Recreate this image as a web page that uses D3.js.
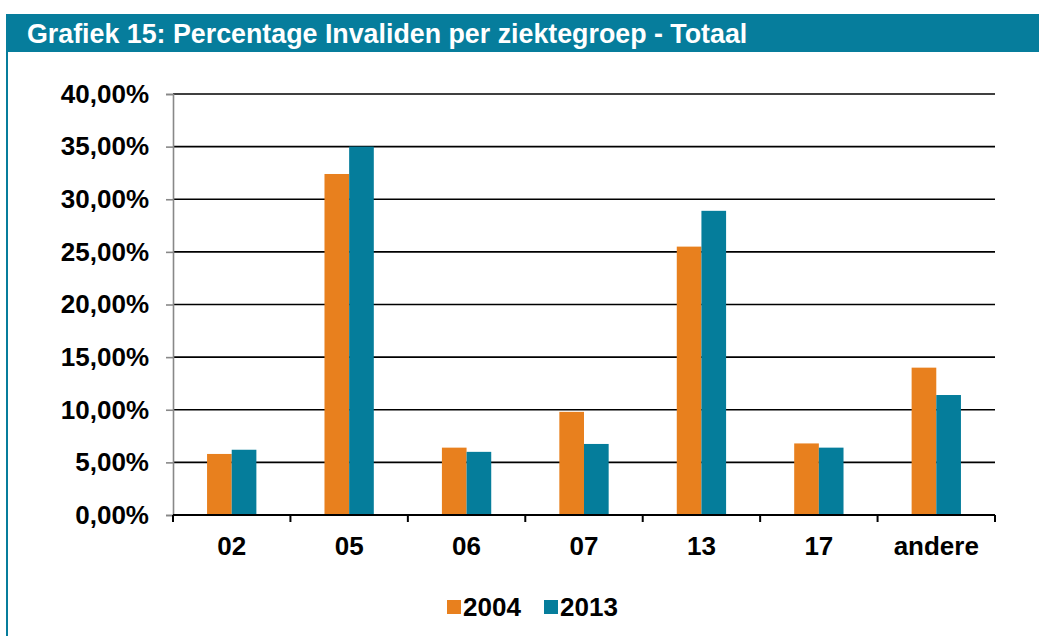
<!DOCTYPE html>
<html>
<head>
<meta charset="utf-8">
<script src="https://cdn.jsdelivr.net/npm/d3@7"></script>
<style>
  body { margin: 0; background: #fff; }
  svg { display: block; font-family: "Liberation Sans", Arial, sans-serif; }
</style>
</head>
<body>
<svg id="chart" width="1039" height="636"></svg>
<script>
const categories = ["02", "05", "06", "07", "13", "17", "andere"];
const series = ["2004", "2013"];
const values2004 = [5.8, 32.4, 6.4, 9.8, 25.5, 6.8, 14.0];
const values2013 = [6.2, 35.0, 6.0, 6.75, 28.9, 6.4, 11.4];
const yTicks = [0, 5, 10, 15, 20, 25, 30, 35, 40];

const colors = { "2004": "#E8801E", "2013": "#057D9B" };
const HEADER = "#067D9C";
const FONT = 26;

const svg = d3.select("#chart");
const margin = { left: 173, right: 44, top: 94, bottom: 121 }; // plot area 173..995, 94..515
const width = 1039, height = 636;

// frame + header
svg.append("rect").attr("x", 6).attr("y", 14).attr("width", 2).attr("height", height - 14).attr("fill", HEADER);
svg.append("rect").attr("x", 6).attr("y", 14).attr("width", width - 6).attr("height", 38).attr("fill", HEADER);
svg.append("text")
    .attr("x", 27).attr("y", 43)
    .attr("fill", "#fff").attr("font-size", 26.8).attr("font-weight", "bold")
    .text("Grafiek 15: Percentage Invaliden per ziektegroep - Totaal");

const x = d3.scaleBand()
    .domain(categories)
    .range([margin.left, width - margin.right])
    .paddingInner(0.58).paddingOuter(0.29);

const xs = d3.scaleBand().domain(series).range([0, x.bandwidth()]);

const y = d3.scaleLinear().domain([0, 40]).range([height - margin.bottom, margin.top]);

// gridlines
svg.append("g")
    .selectAll("line")
    .data(yTicks.filter(d => d > 0))
    .join("line")
    .attr("x1", margin.left).attr("x2", width - margin.right)
    .attr("y1", d => y(d)).attr("y2", d => y(d))
    .attr("stroke", "#000").attr("stroke-width", 1.6);

// y axis
const yAxis = svg.append("g")
    .attr("transform", `translate(${margin.left},0)`)
    .call(d3.axisLeft(y).tickValues(yTicks).tickSize(7).tickPadding(17)
        .tickFormat(d => d.toFixed(2).replace(".", ",") + "%"));
yAxis.select(".domain").attr("stroke", "#888").attr("stroke-width", 1.6);
yAxis.selectAll(".tick line").attr("stroke", "#888").attr("stroke-width", 1.6);
yAxis.selectAll("text").attr("font-size", FONT).attr("font-weight", "bold").attr("fill", "#000")
    .attr("font-family", "Liberation Sans, Arial, sans-serif");

// bars
const rows = categories.map((c, i) => ({ cat: c, vals: [values2004[i], values2013[i]] }));
svg.append("g")
    .selectAll("g")
    .data(rows)
    .join("g")
    .attr("transform", d => `translate(${x(d.cat)},0)`)
    .selectAll("rect")
    .data(d => series.map((s, j) => ({ s, v: d.vals[j] })))
    .join("rect")
    .attr("x", d => xs(d.s))
    .attr("y", d => y(d.v))
    .attr("width", xs.bandwidth())
    .attr("height", d => y(0) - y(d.v))
    .attr("fill", d => colors[d.s]);

// x axis
const step = x.step();
const xTickPos = d3.range(categories.length + 1).map(i => margin.left + i * step);
const xAxis = svg.append("g");
xAxis.append("line")
    .attr("x1", margin.left).attr("x2", width - margin.right)
    .attr("y1", y(0)).attr("y2", y(0))
    .attr("stroke", "#000").attr("stroke-width", 2);
xAxis.selectAll(".xt")
    .data(xTickPos)
    .join("line")
    .attr("x1", d => d).attr("x2", d => d)
    .attr("y1", y(0)).attr("y2", y(0) + 7)
    .attr("stroke", "#000").attr("stroke-width", 2);
xAxis.selectAll("text")
    .data(categories)
    .join("text")
    .attr("x", d => x(d) + x.bandwidth() / 2)
    .attr("y", 555)
    .attr("text-anchor", "middle")
    .attr("font-size", FONT).attr("font-weight", "bold")
    .text(d => d);

// legend
const legend = svg.append("g").attr("transform", "translate(447,600)");
const legendX = [0, 97];
series.forEach((s, i) => {
    const g = legend.append("g").attr("transform", `translate(${legendX[i]},0)`);
    g.append("rect").attr("x", 0).attr("y", 0).attr("width", 14).attr("height", 14).attr("fill", colors[s]);
    g.append("text").attr("x", 16).attr("y", 16).attr("font-size", FONT).attr("font-weight", "bold").text(s);
});
</script>
</body>
</html>
